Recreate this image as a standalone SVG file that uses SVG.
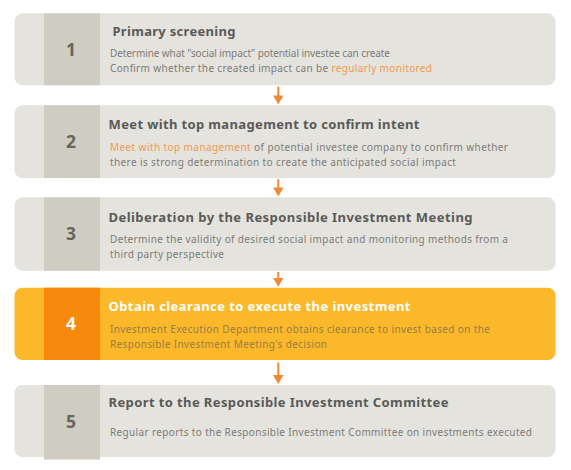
<svg xmlns="http://www.w3.org/2000/svg" width="571" height="470" viewBox="0 0 571 470">
  <defs>
    <marker id="ah" viewBox="0 0 10 10" refX="6" refY="5" markerWidth="9" markerHeight="10.5" markerUnits="userSpaceOnUse" orient="auto" preserveAspectRatio="none">
      <path d="M0,0 L10,5 L0,10 z" fill="#ee8a36"/>
    </marker>
  </defs>
  <style>
    .box { fill: #e4e3dd; }
    .num { fill: #cfcdc2; }
    .numtxt { font-family: "Noto Sans", "DejaVu Sans", sans-serif; font-weight: 700; font-size: 17.5px; fill: #666660; text-anchor: middle; }
    .title { font-family: "Noto Sans", "DejaVu Sans", sans-serif; font-weight: 700; font-size: 13px; fill: #5a5a58; }
    .body { font-family: "Noto Sans", "DejaVu Sans", sans-serif; font-size: 10px; fill: #7c7c78; }
    .hl { fill: #f09a52; }
    .box.hot { fill: #fbb82b; }
    .num.hot { fill: #f7890c; }
    .numtxt.hot { fill: #ffffff; }
    .title.hot { fill: #ffffff; }
    .body.hot { fill: #9a7c40; }
    .conn { stroke: #ee8a36; stroke-width: 2; fill: none; marker-end: url(#ah); }
  </style>

  <g id="step1">
    <rect class="box" x="14.5" y="13.3" width="541" height="72" rx="8"/>
    <rect class="num" x="44" y="13.3" width="56" height="72"/>
    <text class="numtxt" x="71" y="55.5">1</text>
    <text class="title" x="112.5" y="35.7" textLength="123" lengthAdjust="spacing">Primary screening</text>
    <text class="body" x="110" y="57.3" textLength="280" lengthAdjust="spacing">Determine what "social impact" potential investee can create</text>
    <text class="body" x="110" y="72.3" textLength="322" lengthAdjust="spacing">Confirm whether the created impact can be <tspan class="hl">regularly monitored</tspan></text>
  </g>

  <g id="step2">
    <rect class="box" x="14.5" y="105.3" width="541" height="72.7" rx="8"/>
    <rect class="num" x="44" y="105.3" width="56" height="72.7"/>
    <text class="numtxt" x="71" y="148">2</text>
    <text class="title" x="108.5" y="129" textLength="311" lengthAdjust="spacing">Meet with top management to confirm intent</text>
    <text class="body" x="110" y="150.7" textLength="398" lengthAdjust="spacing"><tspan class="hl">Meet with top management</tspan> of potential investee company to confirm whether</text>
    <text class="body" x="110" y="165.7" textLength="346" lengthAdjust="spacing">there is strong determination to create the anticipated social impact</text>
  </g>

  <g id="step3">
    <rect class="box" x="14.5" y="197.3" width="541" height="73.4" rx="8"/>
    <rect class="num" x="44" y="197.3" width="56" height="73.4"/>
    <text class="numtxt" x="71" y="240">3</text>
    <text class="title" x="108.5" y="222" textLength="364" lengthAdjust="spacing">Deliberation by the Responsible Investment Meeting</text>
    <text class="body" x="110" y="243.3" textLength="398" lengthAdjust="spacing">Determine the validity of desired social impact and monitoring methods from a</text>
    <text class="body" x="110" y="258.3" textLength="114" lengthAdjust="spacing">third party perspective</text>
  </g>

  <g id="step4">
    <rect class="box hot" x="14.5" y="287.7" width="541" height="72.3" rx="8"/>
    <rect class="num hot" x="44" y="287.7" width="56" height="72.3"/>
    <text class="numtxt hot" x="71" y="330">4</text>
    <text class="title hot" x="108.5" y="310.7" textLength="302" lengthAdjust="spacing">Obtain clearance to execute the investment</text>
    <text class="body hot" x="110" y="332.7" textLength="380" lengthAdjust="spacing">Investment Execution Department obtains clearance to invest based on the</text>
    <text class="body hot" x="110" y="347.7" textLength="217" lengthAdjust="spacing">Responsible Investment Meeting's decision</text>
  </g>

  <g id="step5">
    <rect class="box" x="14.5" y="385" width="541" height="72" rx="8"/>
    <rect class="num" x="44" y="385" width="56" height="74.5"/>
    <text class="numtxt" x="71" y="428">5</text>
    <text class="title" x="108.5" y="406.7" textLength="340" lengthAdjust="spacing">Report to the Responsible Investment Committee</text>
    <text class="body" x="110" y="435.7" textLength="422" lengthAdjust="spacing">Regular reports to the Responsible Investment Committee on investments executed</text>
  </g>

  <g id="connectors">
    <line class="conn" x1="278.3" y1="86.5" x2="278.3" y2="100.8"/>
    <line class="conn" x1="278.3" y1="179.2" x2="278.3" y2="192.8"/>
    <line class="conn" x1="278.3" y1="271.9" x2="278.3" y2="283.2"/>
    <line class="conn" x1="278.3" y1="362.5" x2="278.3" y2="380.4"/>
  </g>
</svg>
